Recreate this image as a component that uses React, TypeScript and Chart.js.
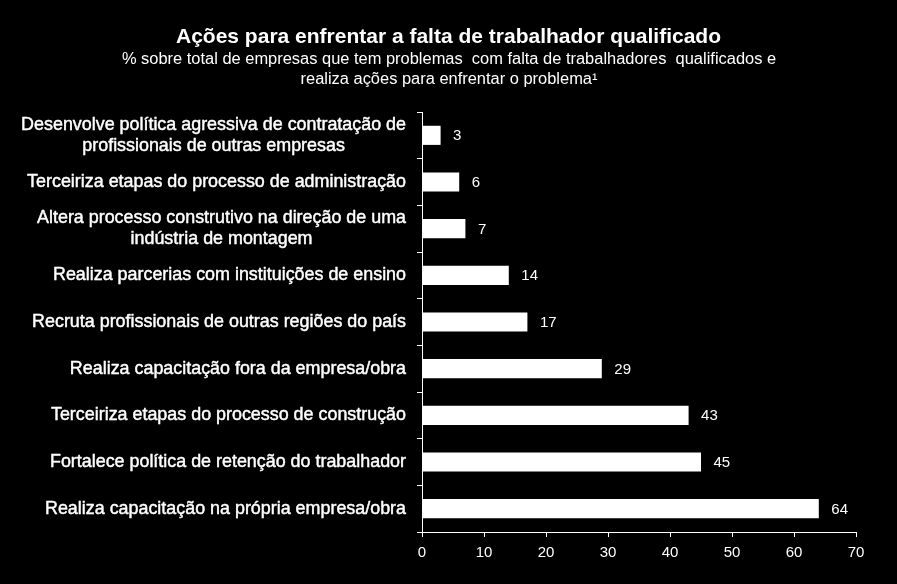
import React, { useEffect, useRef } from "react";
import { Chart, registerables } from "chart.js";

Chart.register(...registerables);

const titleText = "Ações para enfrentar a falta de trabalhador qualificado";
const subtitleLines = [
  "% sobre total de empresas que tem problemas  com falta de trabalhadores  qualificados e",
  "realiza ações para enfrentar o problema¹",
];

const categories: string[][] = [
  ["Desenvolve política agressiva de contratação de", "profissionais de outras empresas"],
  ["Terceiriza etapas do processo de administração"],
  ["Altera processo construtivo na direção de uma", "indústria de montagem"],
  ["Realiza parcerias com instituições de ensino"],
  ["Recruta profissionais de outras regiões do país"],
  ["Realiza capacitação fora da empresa/obra"],
  ["Terceiriza etapas do processo de construção"],
  ["Fortalece política de retenção do trabalhador"],
  ["Realiza capacitação na própria empresa/obra"],
];

const values = [3, 6, 7, 14, 17, 29, 43, 45, 64];

const xMin = 0;
const xMax = 70;
const xStep = 10;

const FONT = '"Liberation Sans", Arial, sans-serif';

const textPlugin = {
  id: "customText",
  afterDraw(chart: any) {
    const ctx = chart.ctx as CanvasRenderingContext2D;
    const yScale = chart.scales.y;
    ctx.save();
    ctx.fillStyle = "#ffffff";
    ctx.strokeStyle = "#ffffff";
    ctx.lineJoin = "round";

    // Title
    ctx.textAlign = "center";
    ctx.textBaseline = "alphabetic";
    ctx.font = `bold 21px ${FONT}`;
    ctx.fillText(titleText, 448.5, 43);
    ctx.font = `16.45px ${FONT}`;
    ctx.fillText(subtitleLines[0], 449, 64);
    ctx.fillText(subtitleLines[1], 449, 84);

    // Category labels
    ctx.font = `17.9px ${FONT}`;
    ctx.textBaseline = "middle";
    ctx.lineWidth = 0.45;
    const rightEdge = yScale.right - 16;
    const lineH = 21;
    categories.forEach((lines, i) => {
      const cy = yScale.getPixelForValue(i);
      const w = Math.max(...lines.map((l) => ctx.measureText(l).width));
      const cx = rightEdge - w / 2;
      lines.forEach((l, j) => {
        const ly = cy + (j - (lines.length - 1) / 2) * lineH;
        ctx.fillText(l, cx, ly);
        ctx.strokeText(l, cx, ly);
      });
    });

    // Value labels
    ctx.font = `15px ${FONT}`;
    ctx.textAlign = "left";
    const meta = chart.getDatasetMeta(0);
    meta.data.forEach((bar: any, i: number) => {
      ctx.fillText(String(values[i]), bar.x + 12.5, bar.y + 1);
    });
    ctx.restore();
  },
};

export default function App() {
  const ref = useRef<HTMLCanvasElement | null>(null);

  useEffect(() => {
    if (!ref.current) return;
    const chart = new Chart(ref.current, {
      type: "bar",
      data: {
        labels: categories,
        datasets: [
          {
            data: values,
            backgroundColor: "#ffffff",
            borderWidth: 0,
            barPercentage: 0.41,
            categoryPercentage: 1,
          },
        ],
      },
      options: {
        indexAxis: "y",
        animation: false,
        responsive: false,
        devicePixelRatio: 1,
        layout: { padding: { top: 112, right: 41, bottom: 0, left: 0 } },
        plugins: {
          legend: { display: false },
          title: { display: false },
          tooltip: { enabled: false },
        },
        scales: {
          x: {
            type: "linear",
            min: xMin,
            max: xMax,
            ticks: {
              stepSize: xStep,
              color: "#ffffff",
              font: { family: FONT, size: 15 },
              padding: 7,
            },
            grid: {
              display: true,
              drawOnChartArea: false,
              drawTicks: true,
              tickLength: 5,
              color: "#ffffff",
              lineWidth: 1,
            },
            border: { display: true, color: "#ffffff", width: 1 },
            afterFit: (scale: any) => {
              scale.height = 52;
            },
          },
          y: {
            type: "category",
            offset: true,
            ticks: { display: false },
            grid: {
              display: true,
              offset: true,
              drawOnChartArea: false,
              drawTicks: true,
              tickLength: 5,
              color: "#ffffff",
              lineWidth: 1,
            },
            border: { display: true, color: "#ffffff", width: 1 },
            afterFit: (scale: any) => {
              scale.width = 422;
            },
          },
        },
      },
      plugins: [textPlugin],
    });
    return () => chart.destroy();
  }, []);

  return (
    <div
      style={{
        position: "fixed",
        left: 0,
        top: 0,
        width: 897,
        height: 584,
        background: "#000000",
      }}
    >
      <canvas ref={ref} width={897} height={584} style={{ display: "block" }} />
    </div>
  );
}
